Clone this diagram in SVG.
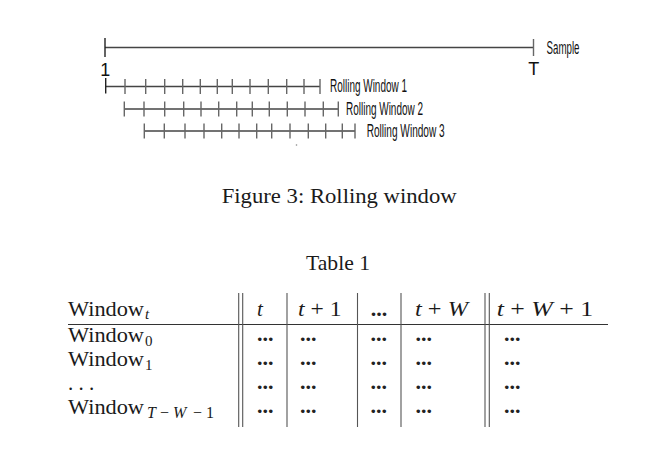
<svg xmlns="http://www.w3.org/2000/svg" width="665" height="455" viewBox="0 0 665 455">
<style>
.bg{fill:#fff}
.hl{stroke:#444;stroke-width:1.3;fill:none}
.tk{stroke:#666;stroke-width:1.4;fill:none}
.lab{font-family:"Liberation Sans",Arial,sans-serif;font-size:17.5px;fill:#111}
.num{font-family:"Liberation Sans",Arial,sans-serif;font-size:18px;fill:#111}
.ser{font-family:"Liberation Serif","Times New Roman",serif;font-size:21px;fill:#1a1a1a}
.it{font-style:italic}
.sub{font-family:"Liberation Serif","Times New Roman",serif;font-size:15px;fill:#1a1a1a}
.dots{font-family:"Liberation Serif","Times New Roman",serif;font-size:22px;font-weight:bold;fill:#222}
.rule{stroke:#333;stroke-width:1.1}
.vl{stroke:#555;stroke-width:1.1}
</style>
<rect class="bg" x="0" y="0" width="665" height="455"/>

<g id="figure">
  <g id="sample">
    <line class="hl" x1="105" y1="47.5" x2="533.5" y2="47.5"/>
    <line class="tk" x1="105" y1="38" x2="105" y2="57" style="stroke:#222"/>
    <line class="tk" x1="533.5" y1="39" x2="533.5" y2="56"/>
    <text class="lab" x="546.5" y="53.5" textLength="33" lengthAdjust="spacingAndGlyphs">Sample</text>
    <text class="num" x="105.3" y="76" text-anchor="middle">1</text>
    <text class="num" x="533.8" y="75" text-anchor="middle">T</text>
  </g>
  <g id="window1">
    <line class="hl" x1="105.7" y1="86.5" x2="320" y2="86.5"/>
    <line class="tk" x1="105.7" y1="78" x2="105.7" y2="93.5" style="stroke:#222"/>
    <path class="tk" d="M125,79V94 M145.7,79V94 M164.7,79V94 M182.7,79V94 M200.3,79V94 M217.3,79V94 M232.3,79V94 M250,79V94 M268.3,79V94 M286.7,79V94 M304,79V94 M320,79V94"/>
    <text class="lab" x="330" y="92" textLength="77" lengthAdjust="spacingAndGlyphs">Rolling Window 1</text>
  </g>
  <g id="window2">
    <line class="hl" x1="124.3" y1="109" x2="338.3" y2="109"/>
    <path class="tk" d="M124.3,101.5V116.5 M144,101.5V116.5 M164.7,101.5V116.5 M183.7,101.5V116.5 M201,101.5V116.5 M218.7,101.5V116.5 M236.7,101.5V116.5 M252.3,101.5V116.5 M269.3,101.5V116.5 M287.3,101.5V116.5 M305,101.5V116.5 M323.3,101.5V116.5 M338.3,101.5V116.5"/>
    <text class="lab" x="346" y="114.5" textLength="77" lengthAdjust="spacingAndGlyphs">Rolling Window 2</text>
  </g>
  <g id="window3">
    <line class="hl" x1="144.3" y1="131" x2="355" y2="131"/>
    <path class="tk" d="M144.3,123.5V138.5 M164.3,123.5V138.5 M185,123.5V138.5 M204,123.5V138.5 M221.7,123.5V138.5 M239,123.5V138.5 M256.7,123.5V138.5 M271.7,123.5V138.5 M290,123.5V138.5 M308.3,123.5V138.5 M325.7,123.5V138.5 M342.3,123.5V138.5 M355,123.5V138.5"/>
    <text class="lab" x="366.7" y="136.5" textLength="78" lengthAdjust="spacingAndGlyphs">Rolling Window 3</text>
  </g>
  <circle cx="296.5" cy="145" r="0.8" fill="#888"/>
  <text id="caption" class="ser" x="221.7" y="202.5" textLength="235" lengthAdjust="spacingAndGlyphs">Figure 3: Rolling window</text>
</g>

<g id="table">
  <text id="table-title" class="ser" x="306" y="269.5" textLength="64" lengthAdjust="spacingAndGlyphs">Table 1</text>
  <g id="grid">
    <line class="rule" x1="68" y1="324.5" x2="608" y2="324.5"/>
    <line class="vl" x1="238.7" y1="293" x2="238.7" y2="427"/>
    <line class="vl" x1="242.7" y1="293" x2="242.7" y2="427"/>
    <line class="vl" x1="287" y1="293" x2="287" y2="427"/>
    <line class="vl" x1="357.5" y1="293" x2="357.5" y2="427"/>
    <line class="vl" x1="401" y1="293" x2="401" y2="427"/>
    <line class="vl" x1="485" y1="293" x2="485" y2="427"/>
    <line class="vl" x1="489.3" y1="293" x2="489.3" y2="427"/>
  </g>
  <g id="header">
    <text class="ser" x="68" y="316" textLength="76" lengthAdjust="spacingAndGlyphs">Window</text>
    <text class="sub it" x="145" y="319">t</text>
    <text class="ser it" x="260" y="316" text-anchor="middle">t</text>
    <text class="ser" x="298" y="316" textLength="43.5" lengthAdjust="spacingAndGlyphs"><tspan class="it">t</tspan> + 1</text>
    <text class="dots" x="379" y="316" text-anchor="middle">...</text>
    <text class="ser" x="415" y="316" textLength="53" lengthAdjust="spacingAndGlyphs"><tspan class="it">t</tspan> + <tspan class="it">W</tspan></text>
    <text class="ser" x="496.7" y="316" textLength="96.5" lengthAdjust="spacingAndGlyphs"><tspan class="it">t</tspan> + <tspan class="it">W</tspan> + 1</text>
  </g>
  <g id="row0">
    <text class="ser" x="68" y="342" textLength="76" lengthAdjust="spacingAndGlyphs">Window</text>
    <text class="sub" x="145" y="345.5">0</text>
    <text class="dots" x="257" y="341">...</text>
    <text class="dots" x="300" y="341">...</text>
    <text class="dots" x="370.5" y="341">...</text>
    <text class="dots" x="415.5" y="341">...</text>
    <text class="dots" x="504" y="341">...</text>
  </g>
  <g id="row1">
    <text class="ser" x="68" y="366" textLength="76" lengthAdjust="spacingAndGlyphs">Window</text>
    <text class="sub" x="145" y="369.5">1</text>
    <text class="dots" x="257" y="365">...</text>
    <text class="dots" x="300" y="365">...</text>
    <text class="dots" x="370.5" y="365">...</text>
    <text class="dots" x="415.5" y="365">...</text>
    <text class="dots" x="504" y="365">...</text>
  </g>
  <g id="row2">
    <text class="ser" x="68" y="390">. . .</text>
    <text class="dots" x="257" y="389">...</text>
    <text class="dots" x="300" y="389">...</text>
    <text class="dots" x="370.5" y="389">...</text>
    <text class="dots" x="415.5" y="389">...</text>
    <text class="dots" x="504" y="389">...</text>
  </g>
  <g id="row3">
    <text class="ser" x="68" y="414" textLength="76" lengthAdjust="spacingAndGlyphs">Window</text>
    <text class="sub" y="417.5" style="font-size:16px"><tspan class="it" x="147">T</tspan><tspan x="160">−</tspan><tspan class="it" x="173">W</tspan><tspan x="193">−</tspan><tspan x="206">1</tspan></text>
    <text class="dots" x="257" y="413">...</text>
    <text class="dots" x="300" y="413">...</text>
    <text class="dots" x="370.5" y="413">...</text>
    <text class="dots" x="415.5" y="413">...</text>
    <text class="dots" x="504" y="413">...</text>
  </g>
</g>
</svg>
